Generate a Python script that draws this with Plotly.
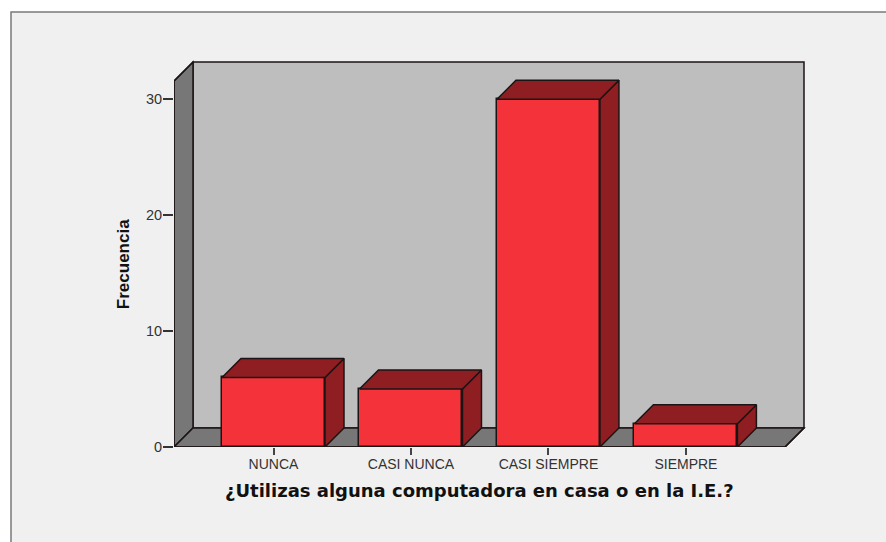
import plotly.graph_objects as go

categories = ["NUNCA", "CASI NUNCA", "CASI SIEMPRE", "SIEMPRE"]
frecuencia = [6, 5, 30, 2]
y_ticks = [0, 10, 20, 30]
x_title = "¿Utilizas alguna computadora en casa o en la I.E.?"
y_title = "Frecuencia"

W, H = 886, 542
L, R, T, B = 174.0, 806.0, 60.0, 446.7      # plot area in px
PX_X = 137.47                               # px per category
PX_Y = 11.58                                # px per unit
X0_PX = 273.5                               # px of first category
X_MIN = (L - X0_PX) / PX_X
X_MAX = (R - X0_PX) / PX_X
Y_MAX = (B - T) / PX_Y
DX = 19.0 / PX_X                            # 3-D depth
DY = 19.0 / PX_Y
BAR_W = 103.0 / PX_X
FRONT_R = (785 - X0_PX) / PX_X
WALL_TOP = (446.7 - 62) / PX_Y

EDGE = "#1c1414"
RED = "#f3323a"
DARK_RED = "#8f1e22"
GREY = "#777777"
WALL = "#bebebe"
BG = "#f0f0f0"

idx = list(range(len(categories)))
fig = go.Figure()

# front faces
fig.add_trace(go.Bar(x=idx, y=frecuencia, width=BAR_W, cliponaxis=False,
                     marker=dict(color=RED, line=dict(color=EDGE, width=1.5)),
                     showlegend=False, hoverinfo="skip"))

# side and top faces derived from the values
for i, v in zip(idx, frecuencia):
    xl, xr = i - BAR_W / 2, i + BAR_W / 2
    fig.add_trace(go.Scatter(
        x=[xr, xr + DX, xr + DX, xr, xr], y=[0, DY, v + DY, v, 0],
        mode="lines", fill="toself", fillcolor=DARK_RED, cliponaxis=False,
        line=dict(color=EDGE, width=1.5), showlegend=False, hoverinfo="skip"))
    fig.add_trace(go.Scatter(
        x=[xl, xr, xr + DX, xl + DX, xl], y=[v, v, v + DY, v + DY, v],
        mode="lines", fill="toself", fillcolor=DARK_RED, cliponaxis=False,
        line=dict(color=EDGE, width=1.5), showlegend=False, hoverinfo="skip"))

# outer axis edges (left and bottom)
fig.add_trace(go.Scatter(
    x=[X_MIN + DX, X_MIN, X_MIN, FRONT_R, FRONT_R + DX],
    y=[WALL_TOP, WALL_TOP - DY, 0, 0, DY],
    mode="lines", cliponaxis=False, line=dict(color=EDGE, width=1.5),
    showlegend=False, hoverinfo="skip"))


def poly(pts):
    return "M " + " L ".join(f"{x},{y}" for x, y in pts) + " Z"


def px(xp, yp):
    return (xp - L) / (R - L), (B - yp) / (B - T)


fx0, fy0 = px(11, 12)
fx1, fy1 = px(892, 548)

wl = dict(color=EDGE, width=1.5)
shapes = [
    dict(type="rect", xref="paper", yref="paper", x0=fx0, y0=fy1, x1=fx1, y1=fy0,
         fillcolor=BG, line=dict(color="#7a7a7a", width=1.5), layer="below"),
    dict(type="path", xref="x", yref="y", layer="below", fillcolor=WALL, line=wl,
         path=poly([(X_MIN + DX, DY), (FRONT_R + DX, DY), (FRONT_R + DX, WALL_TOP), (X_MIN + DX, WALL_TOP)])),
    dict(type="path", xref="x", yref="y", layer="below", fillcolor=GREY, line=wl,
         path=poly([(X_MIN, 0), (X_MIN + DX, DY), (X_MIN + DX, WALL_TOP), (X_MIN, WALL_TOP - DY)])),
    dict(type="path", xref="x", yref="y", layer="below", fillcolor=GREY, line=wl,
         path=poly([(X_MIN, 0), (FRONT_R, 0), (FRONT_R + DX, DY), (X_MIN + DX, DY)])),
]

xt_x, xt_y = px(479.5, 490)
yt_x, yt_y = px(123, 264)
annotations = [
    dict(text=x_title, xref="paper", yref="paper", x=xt_x, y=xt_y, showarrow=False,
         xanchor="center", yanchor="middle",
         font=dict(size=18, family="DejaVu Sans", color="#111111", weight="bold")),
    dict(text=y_title, xref="paper", yref="paper", x=yt_x, y=yt_y, showarrow=False,
         xanchor="center", yanchor="middle", textangle=-90,
         font=dict(size=17, family="Liberation Sans", color="#111111", weight="bold")),
]

fig.update_layout(
    width=W, height=H, autosize=False,
    margin=dict(l=L, r=W - R, t=T, b=H - B, pad=0),
    paper_bgcolor="white", plot_bgcolor="rgba(0,0,0,0)",
    showlegend=False, shapes=shapes, annotations=annotations, bargap=0,
    font=dict(family="Liberation Sans", color="#222222"),
    xaxis=dict(range=[X_MIN, X_MAX], tickmode="array", tickvals=idx, ticktext=categories,
               ticks="outside", ticklen=7, tickwidth=1.5, tickcolor="#444444",
               ticklabelstandoff=-3,
               tickfont=dict(size=14, family="Liberation Sans", color="#333333"),
               showgrid=False, zeroline=False, showline=False),
    yaxis=dict(range=[0, Y_MAX], tickmode="array", tickvals=y_ticks,
               ticks="outside", ticklen=10, tickwidth=1.5, tickcolor="#333333",
               ticklabelstandoff=-2,
               tickfont=dict(size=14.5, family="Liberation Sans", color="#333333"),
               showgrid=False, zeroline=False, showline=False),
)

fig.write_html("out.html", config={"displayModeBar": False},
               post_script="document.body.style.margin='0';document.body.style.overflow='hidden';")
